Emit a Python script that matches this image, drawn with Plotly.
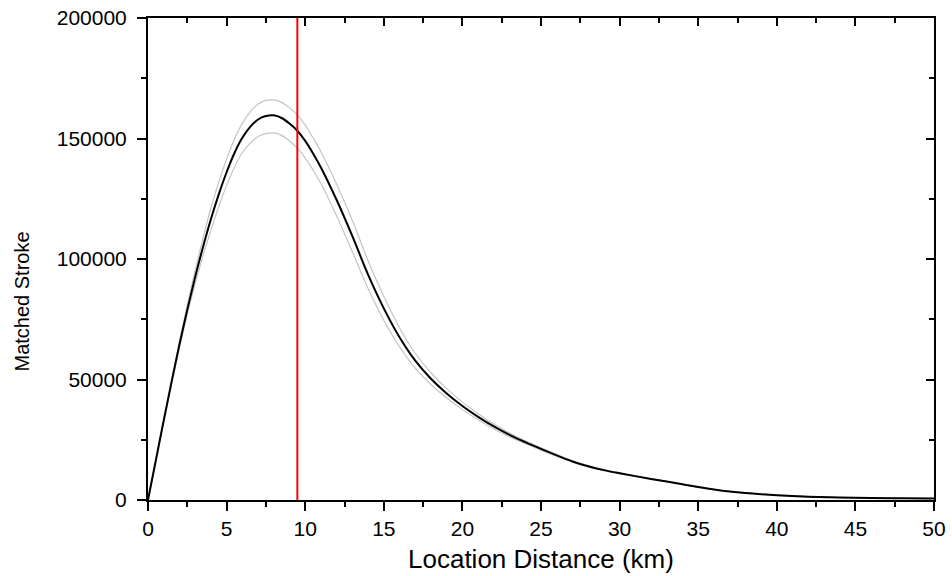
import plotly.graph_objects as go

# ---- data ----
distance_km = [0, 0.5, 1, 1.5, 2, 2.5, 3, 3.5, 4, 4.5, 5, 5.5, 6, 6.5, 7, 7.5, 8, 8.5, 9, 9.5,
               10, 10.5, 11, 12, 13, 14, 15, 16, 17, 18, 19, 20, 21, 22, 23, 24, 25, 26, 27, 28,
               29, 30, 31, 32, 33, 34, 35, 36, 37, 38, 39, 40, 42, 44, 46, 48, 50]
matched_center = [0, 16500, 33000, 49000, 64500, 79000, 92500, 105000, 116500, 126800, 136000,
                  144000, 150300, 154800, 157900, 159300, 159600, 158500, 156200, 153200,
                  149000, 143800, 138000, 124500, 109500, 93500, 79500, 67500, 57800, 50300,
                  44200, 39000, 34500, 30500, 27000, 24000, 21200, 18500, 16000, 14000,
                  12400, 11100, 9900, 8750, 7650, 6500, 5400, 4400, 3550, 2900, 2400, 2000,
                  1400, 1000, 800, 700, 600]
matched_upper = [0, 16650, 33330, 49740, 65790, 80980, 95280, 108680, 121160, 131870, 141440,
                 149760, 156300, 161000, 164300, 165800, 166000, 165000, 162800, 159800,
                 155600, 150300, 144500, 131000, 116000, 99300, 84500, 71500, 60900, 52800,
                 46200, 40600, 35800, 31500, 27800, 24600, 21700, 18900, 16300, 14250,
                 12600, 11250, 10000, 8850, 7730, 6560, 5450, 4440, 3580, 2920, 2420, 2015,
                 1410, 1010, 805, 705, 605]
matched_lower = [0, 16350, 32670, 48260, 63210, 77020, 89730, 101330, 111840, 121730, 130560,
                 138100, 144100, 148100, 150800, 152000, 152300, 151300, 149000, 146000,
                 142000, 136900, 131300, 117800, 103000, 87800, 74600, 63600, 54700, 47900,
                 42300, 37500, 33300, 29500, 26200, 23400, 20700, 18100, 15700, 13750,
                 12200, 10950, 9800, 8650, 7570, 6440, 5350, 4360, 3520, 2880, 2380, 1985,
                 1390, 990, 795, 695, 595]
threshold_km = 9.5
x_range = [0, 50]
y_range = [0, 200000]
x_ticks = [0, 5, 10, 15, 20, 25, 30, 35, 40, 45, 50]
y_ticks = [0, 50000, 100000, 150000, 200000]
x_title = "Location Distance (km)"
y_title = "Matched Stroke"

FONT = "Liberation Sans, Arial, sans-serif"

fig = go.Figure()
fig.add_trace(go.Scatter(x=distance_km, y=matched_upper, mode="lines", line_shape="spline",
                         line=dict(color="#c4c4c4", width=1.2), showlegend=False, hoverinfo="skip"))
fig.add_trace(go.Scatter(x=distance_km, y=matched_lower, mode="lines", line_shape="spline",
                         line=dict(color="#c4c4c4", width=1.2), showlegend=False, hoverinfo="skip"))
fig.add_trace(go.Scatter(x=distance_km, y=matched_center, mode="lines", line_shape="spline",
                         line=dict(color="black", width=2), showlegend=False))
fig.add_trace(go.Scatter(x=[threshold_km, threshold_km], y=y_range, mode="lines",
                         line=dict(color="#ff0000", width=2), showlegend=False))
# invisible trace to host the mirrored (top/right) axes
fig.add_trace(go.Scatter(x=[None], y=[None], xaxis="x2", yaxis="y2", showlegend=False,
                         hoverinfo="skip"))

axis_common = dict(showgrid=False, zeroline=False, showline=True, linecolor="black",
                   linewidth=2, ticks="outside", tickcolor="black", tickwidth=2, ticklen=9,
                   automargin=False,
                   tickfont=dict(family=FONT, size=21, color="black"))

mirror_common = dict(showgrid=False, zeroline=False, showline=True, linecolor="black",
                     linewidth=2, ticks="inside", ticklen=8, tickwidth=2, tickcolor="black",
                     showticklabels=False, automargin=False)

fig.update_layout(
    width=952, height=576,
    margin=dict(l=148, r=18, t=18, b=76, autoexpand=False),
    plot_bgcolor="white", paper_bgcolor="white",
    xaxis=dict(range=x_range, tickvals=x_ticks, **axis_common,
               minor=dict(dtick=2.5, ticks="outside", ticklen=5, tickwidth=2, tickcolor="black")),
    yaxis=dict(range=y_range, tickvals=y_ticks, tickformat="d", **axis_common,
               minor=dict(dtick=25000, ticks="outside", ticklen=5, tickwidth=2, tickcolor="black"),
               ticklabelstandoff=6),
    xaxis2=dict(range=x_range, overlaying="x", side="top", tickvals=x_ticks, **mirror_common,
                minor=dict(dtick=2.5, ticks="inside", ticklen=5, tickwidth=2, tickcolor="black")),
    yaxis2=dict(range=y_range, overlaying="y", side="right", tickvals=y_ticks, **mirror_common,
                minor=dict(dtick=25000, ticks="inside", ticklen=5, tickwidth=2, tickcolor="black")),
    annotations=[
        dict(text=x_title, xref="paper", yref="paper", x=0.5, y=-0.1224,
             xanchor="center", yanchor="middle", showarrow=False,
             font=dict(family=FONT, size=26, color="black")),
        dict(text=y_title, xref="paper", yref="paper", x=-0.1603, y=0.4118,
             xanchor="center", yanchor="middle", showarrow=False, textangle=-90,
             font=dict(family=FONT, size=20, color="black")),
    ],
)

fig.write_html("out.html")
